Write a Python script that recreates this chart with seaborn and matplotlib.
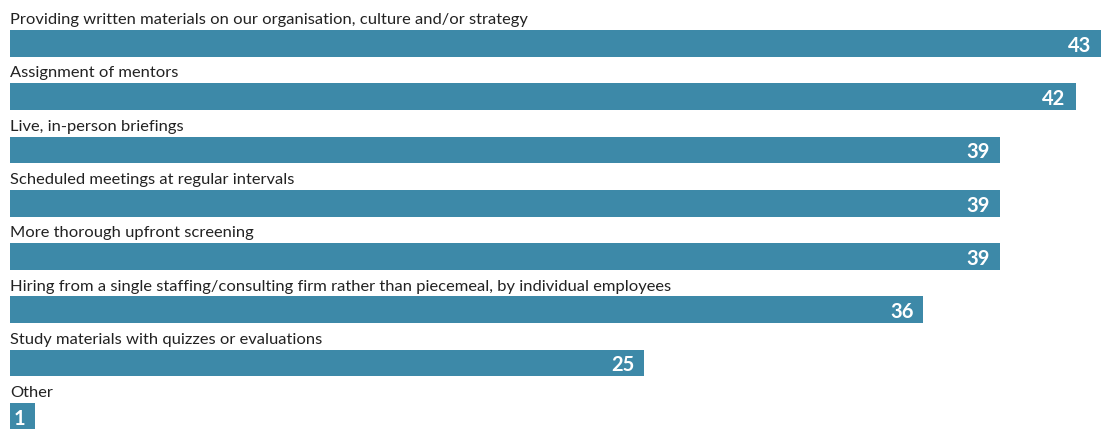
import matplotlib
matplotlib.use("Agg")
import matplotlib.pyplot as plt
import seaborn as sns
import pandas as pd

categories = [
    "Providing written materials on our organisation, culture and/or strategy",
    "Assignment of mentors",
    "Live, in-person briefings",
    "Scheduled meetings at regular intervals",
    "More thorough upfront screening",
    "Hiring from a single staffing/consulting firm rather than piecemeal, by individual employees",
    "Study materials with quizzes or evaluations",
    "Other",
]
values = [43, 42, 39, 39, 39, 36, 25, 1]

BAR_COLOR = "#3d89a8"
TEXT_COLOR = "#222222"

sns.set_theme(style="white")
plt.rcParams["font.family"] = ["Lato", "DejaVu Sans"]

df = pd.DataFrame({"category": categories, "value": values})

W, H, DPI = 1109, 429, 100
fig = plt.figure(figsize=(W / DPI, H / DPI), dpi=DPI)
ax = fig.add_axes([10 / W, 0, 1091 / W, 1])

sns.barplot(data=df, y="category", x="value", orient="h", color=BAR_COLOR,
            saturation=1, width=0.5, linewidth=0, ax=ax)

ax.set_xlim(0, max(values))
ax.set_ylim(7.236, -0.8125)
ax.set_xlabel("")
ax.set_ylabel("")
ax.set_xticks([])
ax.set_yticks([])
sns.despine(ax=ax, left=True, bottom=True)

for i, (cat, val) in enumerate(zip(categories, values)):
    ax.text(0, i - 0.362, cat, ha="left", va="baseline", fontsize=11.85,
            color=TEXT_COLOR, clip_on=False)
    ax.annotate(str(val), xy=(val, i + 0.157), xytext=(-10, 0),
                textcoords="offset pixels", ha="right", va="baseline",
                fontsize=14.5, fontweight="bold", color="white")

fig.savefig("out.png", dpi=DPI)
